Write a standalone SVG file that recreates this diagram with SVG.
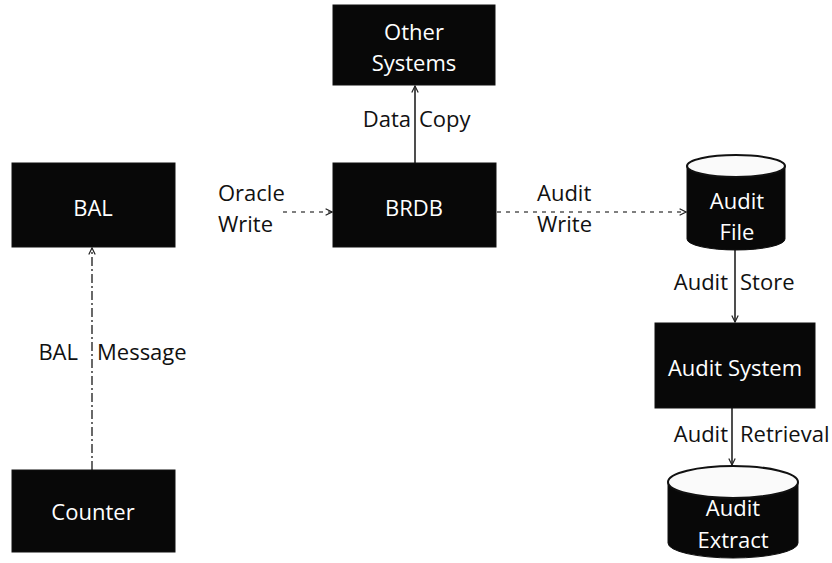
<svg xmlns="http://www.w3.org/2000/svg" width="832" height="563" viewBox="0 0 832 563">
<defs>
<marker id="arr" viewBox="0 0 10 10" refX="9" refY="5" markerWidth="8" markerHeight="8" orient="auto" markerUnits="userSpaceOnUse">
<path d="M1,1 L9,5 L1,9" fill="none" stroke="#222" stroke-width="1.5"/>
</marker>
<style>
.box{fill:#080808;stroke:#111;stroke-width:1}
.ctop{fill:#fafafa;stroke:#111;stroke-width:2}
.nt{font-family:"Open Sans","Liberation Sans",sans-serif;font-size:22px;fill:#fff;text-anchor:middle}
.lbl{font-family:"Open Sans","Liberation Sans",sans-serif;font-size:22px;fill:#111}
.solid{stroke:#222;stroke-width:1.6;fill:none}
.dash{stroke:#555;stroke-width:1.6;fill:none;stroke-dasharray:4 5}
.dashdot{stroke:#444;stroke-width:1.6;fill:none;stroke-dasharray:9 3 2 3}
</style>
</defs>
<rect width="832" height="563" fill="#fff"/>
<g id="connectors">
<line class="dash" x1="283" y1="212" x2="332" y2="212" marker-end="url(#arr)"/>
<line class="dash" x1="497" y1="212" x2="686" y2="212" marker-end="url(#arr)"/>
<line class="solid" x1="415" y1="163" x2="415" y2="86" marker-end="url(#arr)"/>
<line class="solid" x1="735" y1="250" x2="735" y2="322" marker-end="url(#arr)"/>
<line class="solid" x1="732" y1="408" x2="732" y2="465" marker-end="url(#arr)"/>
<line class="dashdot" x1="92" y1="470" x2="92" y2="248" marker-end="url(#arr)"/>
<text class="lbl" x="218" y="201">Oracle</text>
<text class="lbl" x="218" y="232">Write</text>
<text class="lbl" x="537" y="201">Audit</text>
<text class="lbl" x="537" y="232">Write</text>
<text class="lbl"><tspan x="411" y="127" text-anchor="end">Data</tspan><tspan x="419" y="127">Copy</tspan></text>
<text class="lbl"><tspan x="728" y="290" text-anchor="end">Audit</tspan><tspan x="740" y="290">Store</tspan></text>
<text class="lbl"><tspan x="728" y="442" text-anchor="end">Audit</tspan><tspan x="740" y="442">Retrieval</tspan></text>
<text class="lbl"><tspan x="78" y="360" text-anchor="end">BAL</tspan><tspan x="97" y="360">Message</tspan></text>
</g>
<g id="node-other-systems">
<rect class="box" x="333" y="5" width="162" height="80"/>
<text class="nt" x="414" y="40">Other</text>
<text class="nt" x="414" y="71">Systems</text>
</g>
<g id="node-bal">
<rect class="box" x="12" y="163" width="163" height="84"/>
<text class="nt" x="93" y="216">BAL</text>
</g>
<g id="node-brdb">
<rect class="box" x="333" y="163" width="163" height="84"/>
<text class="nt" x="414" y="216">BRDB</text>
</g>
<g id="node-audit-file">
<path class="box" d="M687,166 L687,239 A49,11 0 0 0 785,239 L785,166 Z"/>
<ellipse class="ctop" cx="736" cy="166" rx="49" ry="11"/>
<text class="nt" x="737" y="209">Audit</text>
<text class="nt" x="737" y="240">File</text>
</g>
<g id="node-audit-system">
<rect class="box" x="655" y="323" width="160" height="85"/>
<text class="nt" x="735" y="376">Audit System</text>
</g>
<g id="node-audit-extract">
<path class="box" d="M668,482 L668,543 A65,15 0 0 0 798,543 L798,482 Z"/>
<ellipse class="ctop" cx="733" cy="482" rx="65" ry="16"/>
<text class="nt" x="733" y="516">Audit</text>
<text class="nt" x="733" y="548">Extract</text>
</g>
<g id="node-counter">
<rect class="box" x="12" y="470" width="163" height="82"/>
<text class="nt" x="93" y="520">Counter</text>
</g>
</svg>
